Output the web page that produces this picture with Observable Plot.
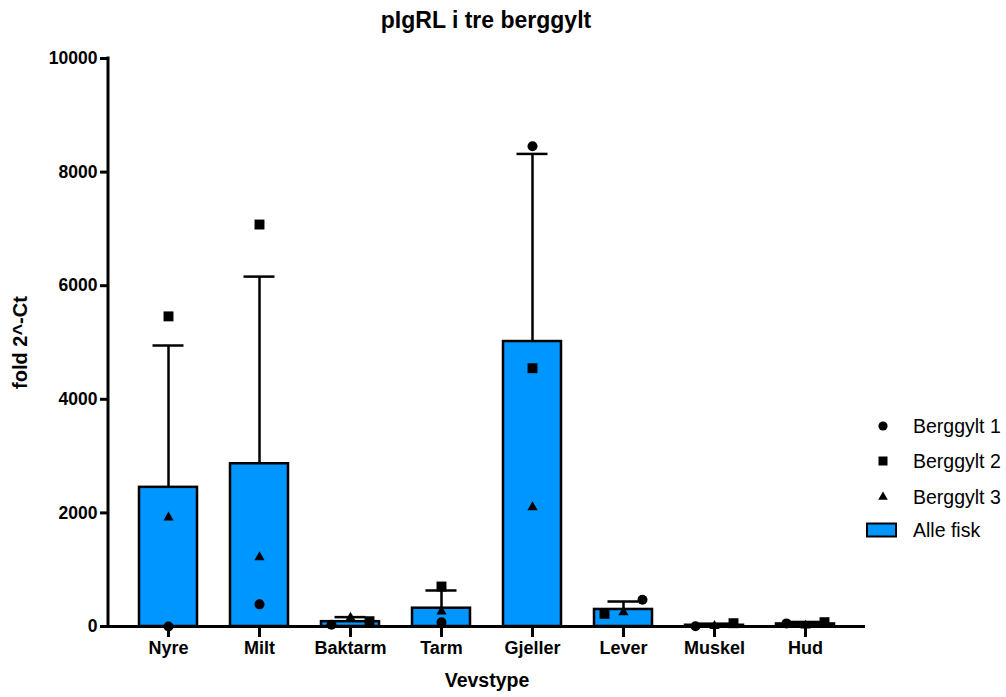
<!DOCTYPE html>
<html>
<head>
<meta charset="utf-8">
<script src="https://cdn.jsdelivr.net/npm/d3@7"></script>
<script src="https://cdn.jsdelivr.net/npm/@observablehq/plot@0.6"></script>
<style>
  body { margin: 0; background: #fff; font-family: "Liberation Sans", Arial, sans-serif; }
  #wrap { position: relative; width: 1006px; height: 697px; overflow: hidden; }
  #title { width: 972px; height: 40px; line-height: 40px; text-align: center; font-size: 23px; font-weight: bold; color: #000; }
  .lg-text { position: absolute; left: 913px; font-size: 19.5px; color: #000; transform: translateY(-50%); white-space: nowrap; }
  .lg-sym { position: absolute; }
</style>
</head>
<body>
<div id="wrap">
  <div id="title">pIgRL i tre berggylt</div>
  <div id="chart"></div>
  <div id="legend"></div>
</div>
<script>
// ---- data ----
const categories = ["Nyre", "Milt", "Baktarm", "Tarm", "Gjeller", "Lever", "Muskel", "Hud"];
const means      = [2450, 2865, 85, 322, 5017, 300, 22, 45];
const errorTops  = [4947, 6160, 165, 634, 8320, 440, 50, 80];
const berggylt1  = [0, 390, 30, 76, 8455, 470, 5, 55];
const berggylt2  = [5460, 7077, 93, 704, 4547, 223, 58, 76];
const berggylt3  = [1920, 1220, 155, 264, 2100, 252, 10, 15];
const seriesNames = ["Berggylt 1", "Berggylt 2", "Berggylt 3"];
const yTicks = [0, 2000, 4000, 6000, 8000, 10000];
const title = "pIgRL i tre berggylt";
const xLabel = "Vevstype";
const yLabel = "fold 2^-Ct";
const barLabel = "Alle fisk";

// ---- layout (not data) ----
const barColor = "#0096ff";
const symbols = {"Berggylt 1": "circle", "Berggylt 2": "square", "Berggylt 3": "triangle"};
const symbolR = {"Berggylt 1": 5, "Berggylt 2": 5.6, "Berggylt 3": 3.8};
// left-to-right order of points where GraphPad spread overlapping points
const spreadOrder = {
  "Baktarm": ["Berggylt 1", "Berggylt 3", "Berggylt 2"],
  "Lever":   ["Berggylt 2", "Berggylt 3", "Berggylt 1"],
  "Muskel":  ["Berggylt 1", "Berggylt 3", "Berggylt 2"],
  "Hud":     ["Berggylt 1", "Berggylt 3", "Berggylt 2"]
};
const spreadStep = 19;

const bars = categories.map((c, i) => ({cat: c, mean: means[i], top: errorTops[i]}));
const seriesValues = [berggylt1, berggylt2, berggylt3];
const points = [];
seriesNames.forEach((s, si) => categories.forEach((c, i) => {
  const order = spreadOrder[c];
  const off = order ? (order.indexOf(s) - 1) * spreadStep : 0;
  points.push({cat: c, series: s, value: seriesValues[si][i], off});
}));

const dotMarks = [];
for (const s of seriesNames) {
  for (const off of [-spreadStep, 0, spreadStep]) {
    const subset = points.filter(p => p.series === s && p.off === off);
    if (!subset.length) continue;
    dotMarks.push(Plot.dot(subset, {
      x: "cat", y: "value", dx: off, symbol: () => symbols[s], r: symbolR[s],
      fill: "black", stroke: "none"
    }));
  }
}

function yAxisLine(index, scales, values, dims) {
  const line = document.createElementNS("http://www.w3.org/2000/svg", "line");
  const x = dims.marginLeft;
  line.setAttribute("x1", x); line.setAttribute("x2", x);
  line.setAttribute("y1", dims.marginTop - 1.5);
  line.setAttribute("y2", dims.height - dims.marginBottom + 1.5);
  line.setAttribute("stroke", "black");
  line.setAttribute("stroke-width", 3);
  return line;
}

const chart = Plot.plot({
  width: 1006,
  height: 657,
  marginTop: 18,
  marginBottom: 71,
  marginLeft: 108,
  marginRight: 141,
  style: {fontFamily: "'Liberation Sans', Arial, sans-serif", fontWeight: "bold", color: "black", background: "white"},
  x: {domain: categories, paddingInner: 0.363, paddingOuter: 0.34},
  y: {domain: [0, 10000]},
  symbol: {type: "identity"},
  marks: [
    Plot.barY(bars, {x: "cat", y: "mean", fill: barColor, stroke: "black", strokeWidth: 2.5}),
    Plot.ruleX(bars, {x: "cat", y1: "mean", y2: "top", stroke: "black", strokeWidth: 2.5}),
    Plot.tickY(bars, {x: "cat", y: "top", stroke: "black", strokeWidth: 2.5, insetLeft: 13.5, insetRight: 13.5}),
    Plot.ruleY([0], {stroke: "black", strokeWidth: 3}),
    yAxisLine,
    Plot.axisY({ticks: yTicks, tickFormat: d => String(d), tickSize: 8, tickPadding: 3, strokeWidth: 3, fontSize: 17.5, fontWeight: "bold", label: null}),
    Plot.axisX({tickSize: 11, tickPadding: 4, strokeWidth: 3, fontSize: 18, fontWeight: "bold", label: null}),
    Plot.text([xLabel], {frameAnchor: "bottom", dy: 54, textAnchor: "middle", lineAnchor: "middle", fontSize: 19.5, fontWeight: "bold", fill: "black", text: d => d}),
    Plot.text([yLabel], {frameAnchor: "left", dx: -88, rotate: -90, textAnchor: "middle", lineAnchor: "middle", fontSize: 20, fontWeight: "bold", fill: "black", text: d => d}),
    ...dotMarks
  ]
});
document.getElementById("chart").appendChild(chart);
document.getElementById("title").textContent = title;

// ---- legend (HTML, right of the chart) ----
const legend = document.getElementById("legend");
const legendRows = [
  {label: seriesNames[0], y: 426, kind: "circle"},
  {label: seriesNames[1], y: 461, kind: "square"},
  {label: seriesNames[2], y: 497, kind: "triangle"},
  {label: barLabel, y: 530, kind: "bar"}
];
for (const row of legendRows) {
  const sym = d3.create("svg").attr("class", "lg-sym").attr("width", 34).attr("height", 20)
    .style("left", "864px").style("top", (row.y - 10) + "px");
  const cx = 19, cy = 10;
  if (row.kind === "bar") {
    sym.append("rect").attr("x", 3).attr("y", 3.5).attr("width", 29).attr("height", 13)
      .attr("fill", barColor).attr("stroke", "black").attr("stroke-width", 2);
  } else {
    const type = row.kind === "circle" ? d3.symbolCircle : row.kind === "square" ? d3.symbolSquare : d3.symbolTriangle;
    const size = row.kind === "circle" ? Math.PI * 4.6 * 4.6 : row.kind === "square" ? 81 : 40;
    sym.append("path").attr("transform", `translate(${cx},${cy})`).attr("d", d3.symbol(type, size)()).attr("fill", "black");
  }
  legend.appendChild(sym.node());
  const t = document.createElement("div");
  t.className = "lg-text";
  t.style.top = row.y + "px";
  t.textContent = row.label;
  legend.appendChild(t);
}
</script>
</body>
</html>
